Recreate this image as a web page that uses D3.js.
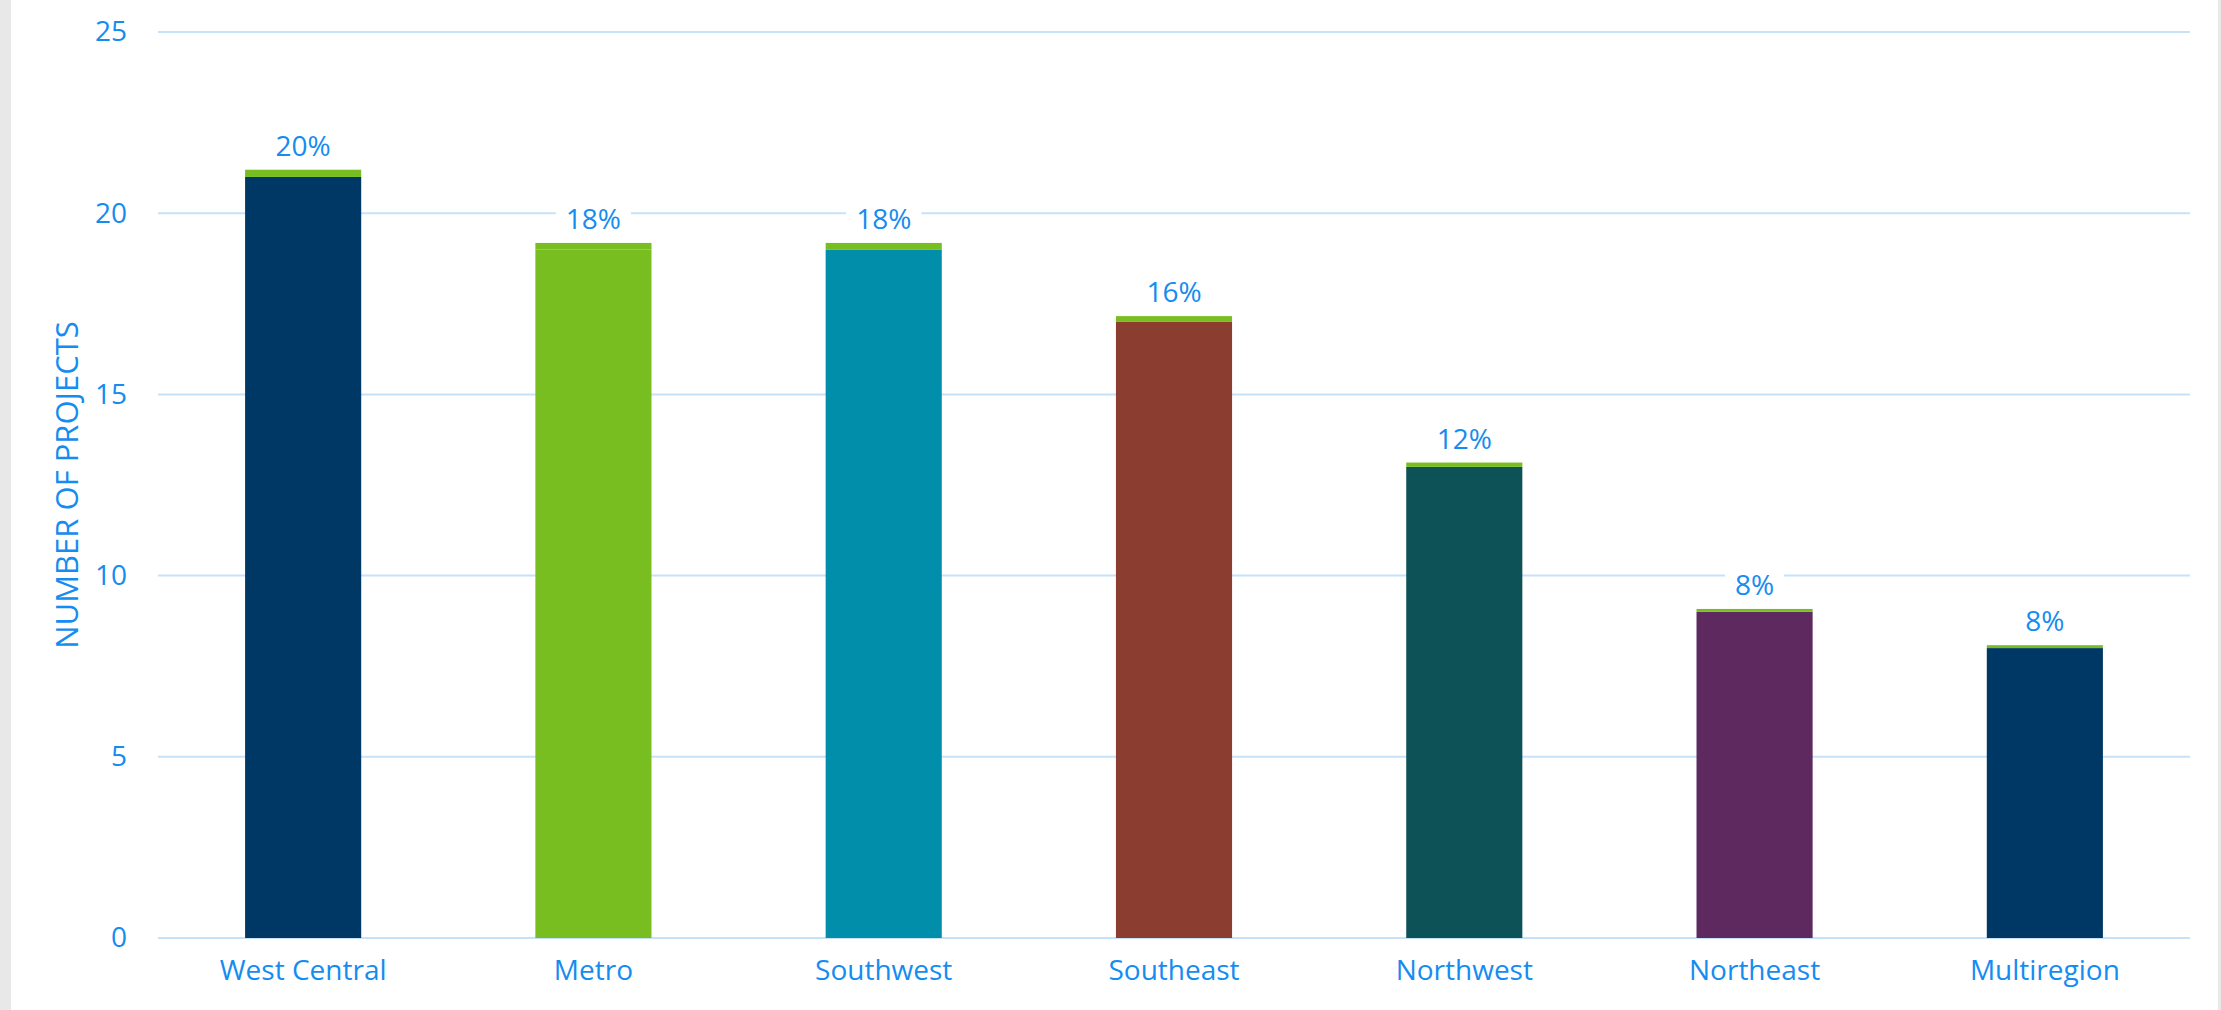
<!DOCTYPE html>
<html>
<head>
<meta charset="utf-8">
<script src="https://cdn.jsdelivr.net/npm/d3@7/dist/d3.min.js"></script>
<style>
  html, body { margin: 0; padding: 0; background: #e8e8e8; }
  svg { display: block; }
  text { font-family: "Open Sans", "Noto Sans", sans-serif; fill: #148cf0; }
</style>
</head>
<body>
<svg id="chart" width="2221" height="1010"></svg>
<script>
// ---- Data ----
const categories = ["West Central", "Metro", "Southwest", "Southeast", "Northwest", "Northeast", "Multiregion"];
const projects = [21, 19, 19, 17, 13, 9, 8];
const shares = [0.20, 0.18, 0.18, 0.16, 0.12, 0.08, 0.08];
const shareLabels = ["20%", "18%", "18%", "16%", "12%", "8%", "8%"];
const barColors = ["#003865", "#78be21", "#008eaa", "#8b3e2f", "#0d5257", "#5d295f", "#003865"];
const capColor = "#78be21";
const yTicks = [0, 5, 10, 15, 20, 25];
const yTitle = "NUMBER OF PROJECTS";

// ---- Layout ----
const W = 2221, H = 1010;
const svg = d3.select("#chart");

svg.append("rect").attr("x", 11).attr("y", 0).attr("width", 2207).attr("height", H).attr("fill", "#ffffff");

const x = d3.scaleBand().domain(categories).range([158, 2190]).paddingInner(0.6).paddingOuter(0.3);
const y = d3.scaleLinear().domain([0, 25]).range([938, 32]);

// gridlines
svg.append("g").selectAll("line").data(yTicks).join("line")
  .attr("x1", 158).attr("x2", 2190)
  .attr("y1", d => y(d)).attr("y2", d => y(d))
  .attr("stroke", "#c6e2fb").attr("stroke-width", 2);

// y axis labels
const yAxis = d3.axisLeft(y).tickValues(yTicks).tickSize(0).tickPadding(0);
const gy = svg.append("g").attr("transform", "translate(127,0)").call(yAxis);
gy.select(".domain").remove();
gy.selectAll("text").attr("font-size", 28).attr("fill", "#148cf0").style("font-family", '"Open Sans", sans-serif');

// y title
svg.append("text")
  .attr("transform", `translate(78,${(y(0) + y(25)) / 2}) rotate(-90)`)
  .attr("text-anchor", "middle")
  .attr("font-size", 31)
  .text(yTitle);

const data = categories.map((c, i) => ({ c, v: projects[i], s: shares[i], lab: shareLabels[i], col: barColors[i] }));

// main bars
svg.append("g").selectAll("rect").data(data).join("rect")
  .attr("x", d => x(d.c)).attr("width", x.bandwidth())
  .attr("y", d => y(d.v)).attr("height", d => y(0) - y(d.v))
  .attr("fill", d => d.col);

// share caps (stacked)
svg.append("g").selectAll("rect").data(data).join("rect")
  .attr("x", d => x(d.c)).attr("width", x.bandwidth())
  .attr("y", d => y(d.v + d.s)).attr("height", d => y(d.v) - y(d.v + d.s))
  .attr("fill", capColor);

// labels with white background
const lg = svg.append("g").selectAll("g").data(data).join("g")
  .attr("transform", d => `translate(${x(d.c) + x.bandwidth() / 2},${y(d.v + d.s) - 14})`);
lg.append("text")
  .attr("text-anchor", "middle")
  .attr("font-size", 28)
  .text(d => d.lab);
lg.each(function () {
  const g = d3.select(this);
  const bb = g.select("text").node().getBBox();
  g.insert("rect", "text")
    .attr("x", bb.x - 10).attr("y", bb.y + 2)
    .attr("width", bb.width + 20).attr("height", bb.height - 4)
    .attr("fill", "#ffffff");
});

// x axis labels
const xAxis = d3.axisBottom(x).tickSize(0).tickPadding(0);
const gx = svg.append("g").attr("transform", "translate(0,960)").call(xAxis);
gx.select(".domain").remove();
gx.selectAll("text").attr("font-size", 28).attr("fill", "#148cf0")
  .style("font-family", '"Open Sans", sans-serif').attr("dy", "0.71em");
</script>
</body>
</html>
